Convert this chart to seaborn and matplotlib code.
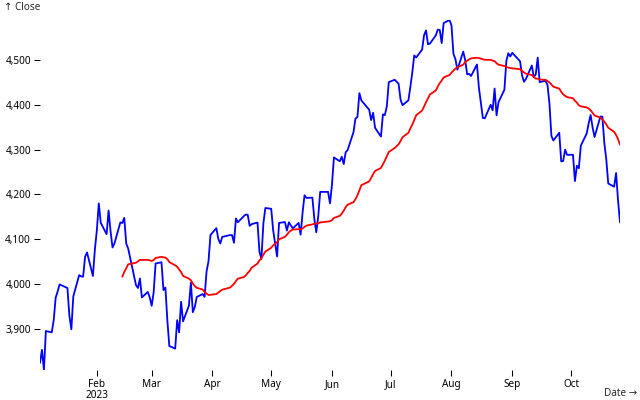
import pandas as pd
import matplotlib
matplotlib.use("Agg")
import matplotlib.pyplot as plt
from matplotlib.ticker import FuncFormatter
import seaborn as sns

# trading days of 2023, by month
jan_days = [3, 4, 5, 6, 9, 10, 11, 12, 13, 17, 18, 19, 20, 23, 24, 25, 26, 27, 30, 31]
feb_days = [1, 2, 3, 6, 7, 8, 9, 10, 13, 14, 15, 16, 17, 21, 22, 23, 24, 27, 28]
mar_days = [1, 2, 3, 6, 7, 8, 9, 10, 13, 14, 15, 16, 17, 20, 21, 22, 23, 24, 27, 28, 29, 30, 31]
apr_days = [3, 4, 5, 6, 10, 11, 12, 13, 14, 17, 18, 19, 20, 21, 24, 25, 26, 27, 28]
may_days = [1, 2, 3, 4, 5, 8, 9, 10, 11, 12, 15, 16, 17, 18, 19, 22, 23, 24, 25, 26, 30, 31]
jun_days = [1, 2, 5, 6, 7, 8, 9, 12, 13, 14, 15, 16, 20, 21, 22, 23, 26, 27, 28, 29, 30]
jul_days = [3, 5, 6, 7, 10, 11, 12, 13, 14, 17, 18, 19, 20, 21, 24, 25, 26, 27, 28, 31]
aug_days = [1, 2, 3, 4, 7, 8, 9, 10, 11, 14, 15, 16, 17, 18, 21, 22, 23, 24, 25, 28, 29, 30, 31]
sep_days = [1, 5, 6, 7, 8, 11, 12, 13, 14, 15, 18, 19, 20, 21, 22, 25, 26, 27, 28, 29]
oct_days = [2, 3, 4, 5, 6, 9, 10, 11, 12, 13, 16, 17, 18, 19, 20, 23, 24, 25, 26]

close = [
    # jan
    3824.14, 3852.97, 3808.10, 3895.08, 3892.09, 3919.25, 3969.61, 3983.17, 3999.09, 3990.97,
    3928.86, 3898.85, 3972.61, 4019.81, 4016.95, 4016.22, 4060.43, 4070.56, 4017.77, 4076.60,
    # feb
    4119.21, 4179.76, 4136.48, 4111.08, 4164.00, 4117.86, 4081.50, 4090.46, 4137.29, 4136.13,
    4147.60, 4090.41, 4079.09, 3997.34, 3991.05, 4012.32, 3970.04, 3982.24, 3970.15,
    # mar
    3951.39, 3981.35, 4045.64, 4048.42, 3986.37, 3992.01, 3918.32, 3861.59, 3855.76, 3919.29,
    3891.93, 3960.28, 3916.64, 3951.57, 4002.87, 3936.97, 3948.72, 3970.99, 3977.53, 3971.27,
    4027.81, 4050.83, 4109.31,
    # apr
    4124.51, 4100.60, 4090.38, 4105.02, 4109.11, 4108.94, 4091.95, 4146.22, 4137.64, 4151.32,
    4154.87, 4154.52, 4129.79, 4133.52, 4137.04, 4071.63, 4055.99, 4135.35, 4169.48,
    # may
    4167.87, 4119.58, 4090.75, 4061.22, 4136.25, 4138.12, 4119.17, 4137.64, 4130.62, 4124.08,
    4136.28, 4109.90, 4158.77, 4198.05, 4191.98, 4192.63, 4145.58, 4115.24, 4151.28, 4205.45,
    4205.52, 4179.83,
    # jun
    4221.02, 4282.37, 4273.79, 4283.85, 4267.52, 4293.93, 4298.86, 4338.93, 4369.01, 4372.59,
    4425.84, 4409.59, 4388.71, 4365.69, 4381.89, 4348.33, 4328.82, 4378.41, 4376.86, 4396.44,
    4450.38,
    # jul
    4455.59, 4446.82, 4411.59, 4398.95, 4409.53, 4439.26, 4472.16, 4510.04, 4505.42, 4522.79,
    4554.98, 4565.72, 4534.87, 4536.34, 4554.64, 4567.46, 4566.75, 4537.41, 4582.23, 4588.96,
    # aug
    4576.73, 4513.39, 4501.89, 4478.03, 4518.44, 4499.38, 4467.71, 4468.83, 4464.05, 4489.72,
    4437.86, 4404.33, 4370.36, 4369.71, 4399.77, 4387.55, 4436.01, 4376.31, 4405.71, 4433.31,
    4497.63, 4514.87, 4507.66,
    # sep
    4515.77, 4496.83, 4465.48, 4451.14, 4457.49, 4487.46, 4461.90, 4467.44, 4505.10, 4450.32,
    4453.53, 4443.95, 4402.20, 4330.00, 4320.06, 4337.44, 4273.53, 4274.51, 4299.70, 4288.05,
    # oct
    4288.39, 4229.45, 4263.75, 4258.19, 4308.50, 4335.66, 4358.24, 4376.95, 4349.61, 4327.78,
    4373.63, 4373.20, 4314.60, 4278.00, 4224.16, 4217.04, 4247.68, 4186.77, 4137.23,
]

month_ticks = ["2023-02-01", "2023-03-01", "2023-04-01", "2023-05-01", "2023-06-01",
               "2023-07-01", "2023-08-01", "2023-09-01", "2023-10-01"]
month_labels = ["Feb\n2023", "Mar", "Apr", "May", "Jun", "Jul", "Aug", "Sep", "Oct"]
y_ticks = [3900, 4000, 4100, 4200, 4300, 4400, 4500]
window = 30  # trailing moving average, in trading days

all_days = [jan_days, feb_days, mar_days, apr_days, may_days,
            jun_days, jul_days, aug_days, sep_days, oct_days]
dates = [f"2023-{m + 1:02d}-{d:02d}" for m, days in enumerate(all_days) for d in days]

df = pd.DataFrame({"Date": pd.to_datetime(dates), "Close": close})
df["Avg"] = df["Close"].rolling(window).mean()

sns.set_theme(style="white")
plt.rcParams["font.family"] = ["Noto Sans", "DejaVu Sans"]
fs = 7.2  # 10px

fig = plt.figure(figsize=(6.4, 4), dpi=100)
ax = fig.add_axes([40 / 640, 30 / 400, 580 / 640, 350 / 400])
ax.set_facecolor("white")

sns.lineplot(data=df, x="Date", y="Close", color="blue", lw=1.3, ax=ax)
sns.lineplot(data=df.dropna(), x="Date", y="Avg", color="red", lw=1.3, ax=ax)

ax.set_xlim(df["Date"].min(), df["Date"].max())
ax.set_ylim(df["Close"].min(), df["Close"].max())
for s in ax.spines.values():
    s.set_visible(False)

ax.set_yticks(y_ticks)
ax.yaxis.set_major_formatter(FuncFormatter(lambda v, p: f"{v:,.0f}"))
ax.set_xticks(pd.to_datetime(month_ticks))
ax.set_xticklabels(month_labels, linespacing=1.0)
ax.tick_params(axis="both", length=4.3, width=0.75, pad=2.2, labelsize=fs,
               color="black", labelcolor="black", left=True, bottom=True)
ax.set_xlabel("")
ax.set_ylabel("")

fig.text(4 / 640, 1 - 7 / 400, "↑ Close", fontsize=fs, ha="left", va="center")
fig.text(637 / 640, 1 - 393 / 400, "Date →", fontsize=fs, ha="right", va="center")

fig.savefig("out.png", dpi=100, facecolor="white")
